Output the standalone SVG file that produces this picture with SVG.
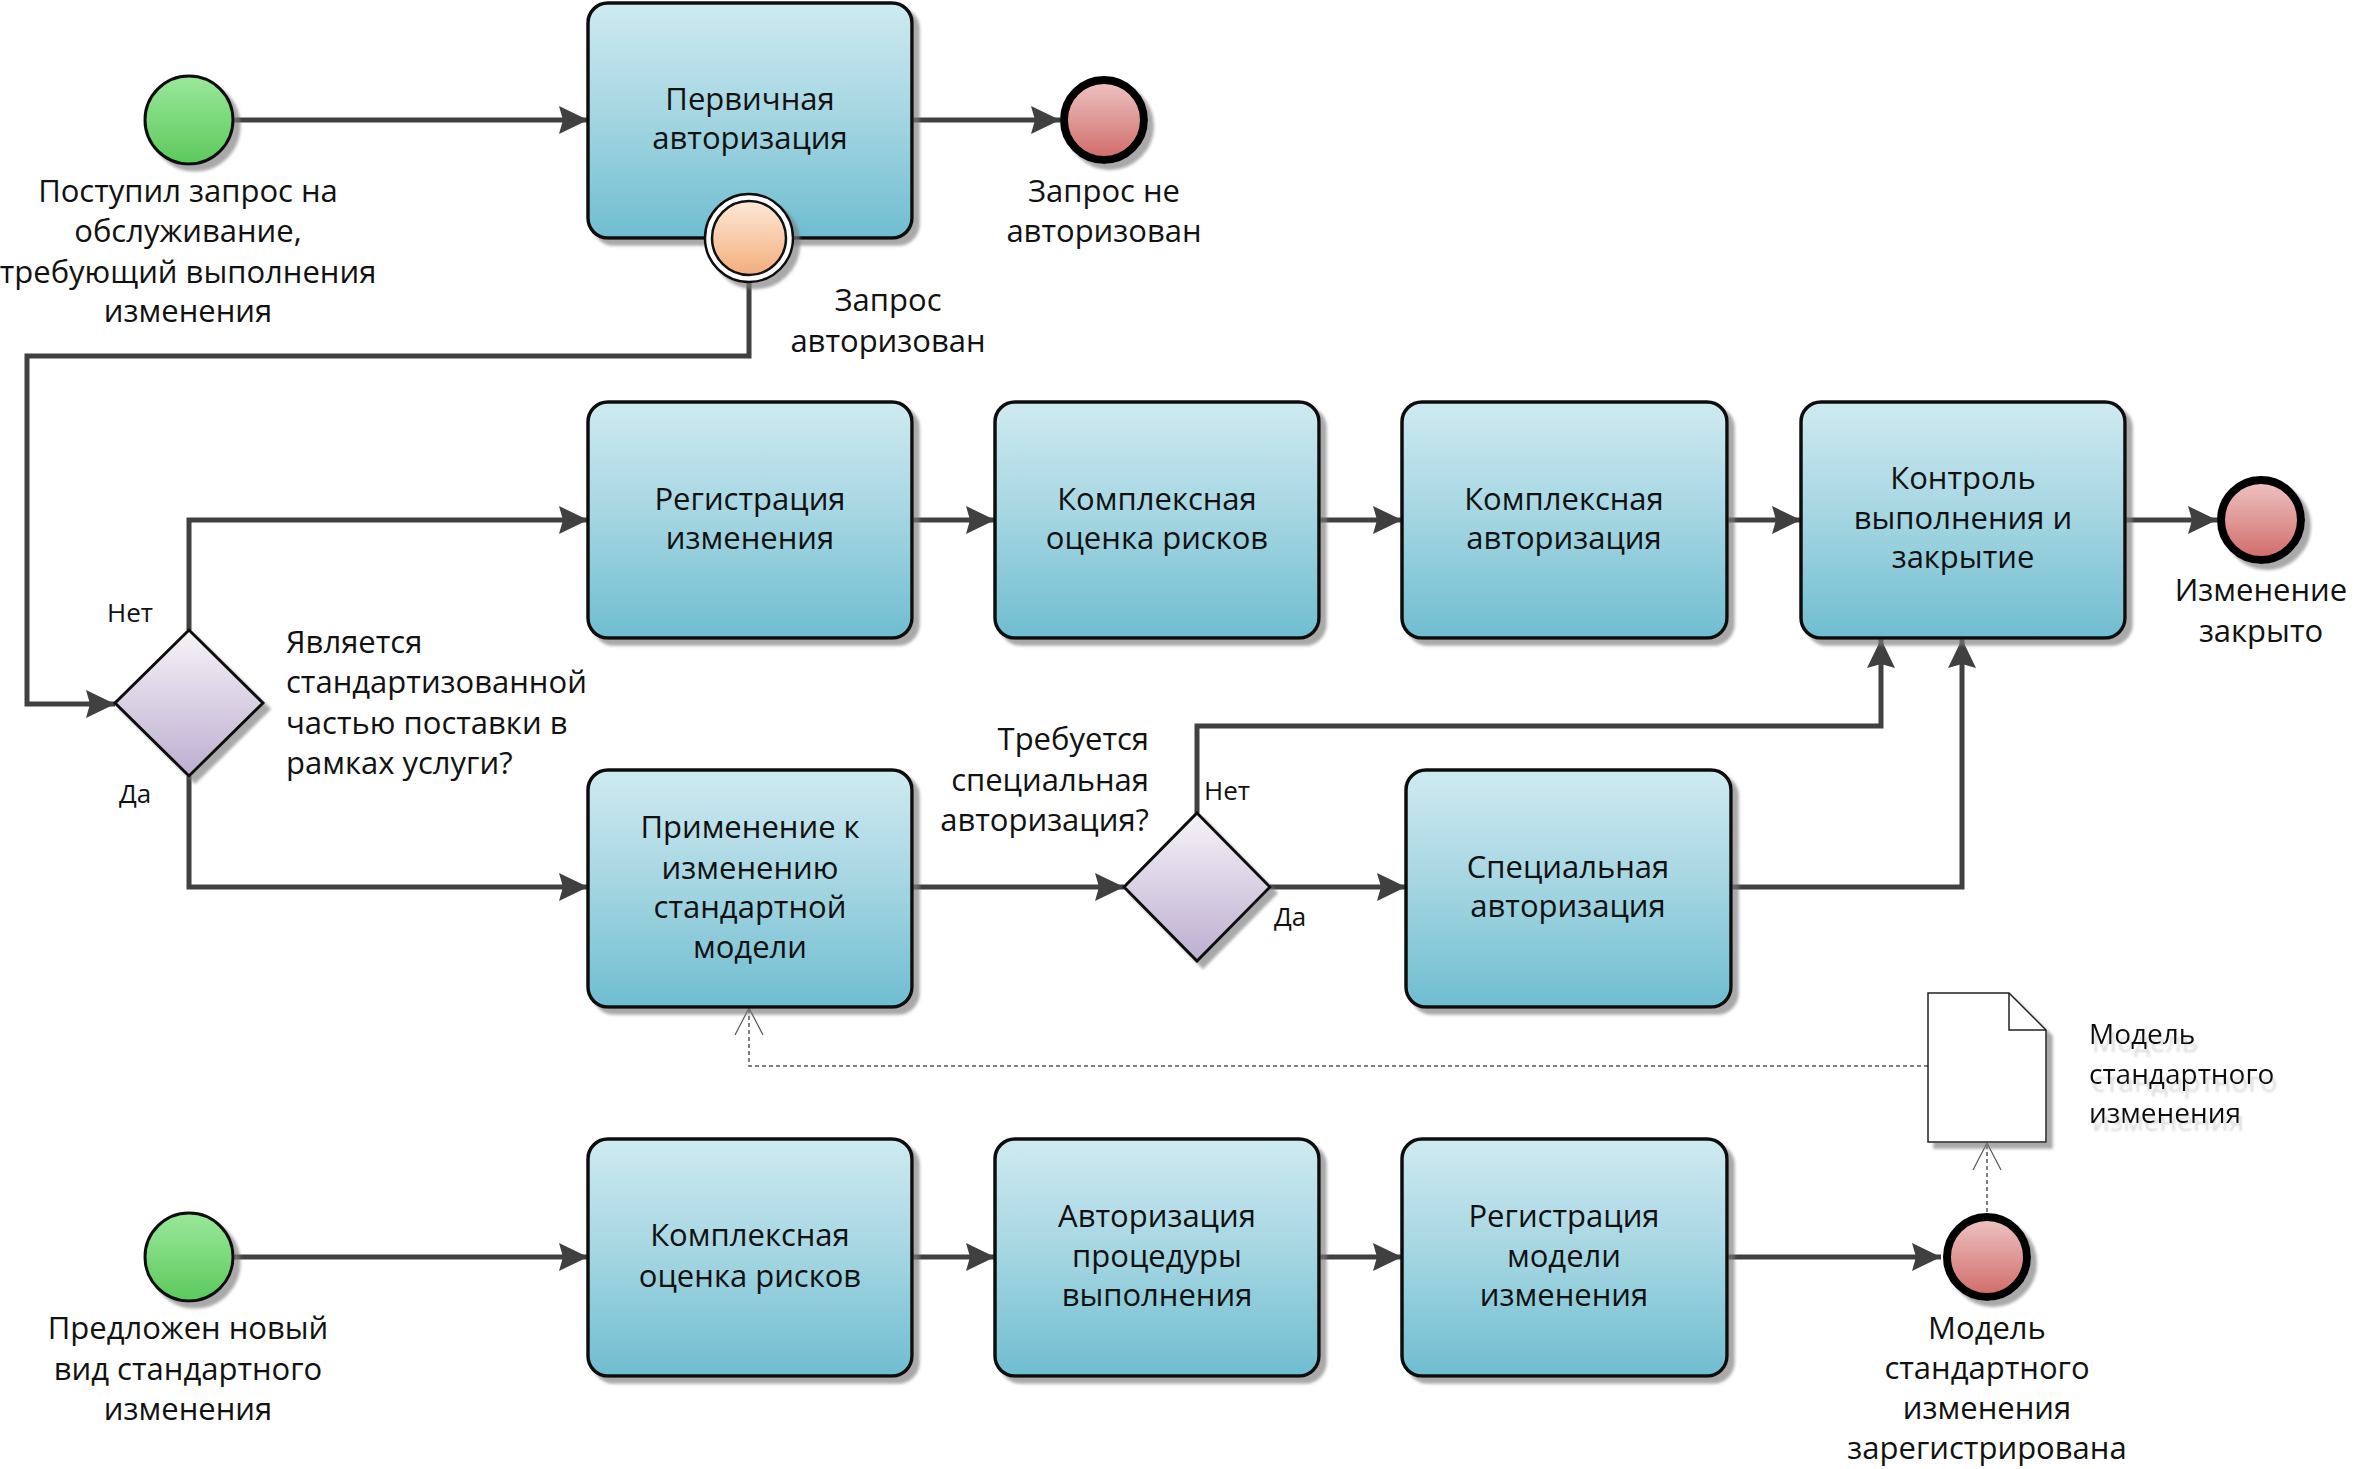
<svg xmlns="http://www.w3.org/2000/svg" width="2356" height="1469" viewBox="0 0 2356 1469">
<defs>
<linearGradient id="gTask" x1="0" y1="0" x2="0" y2="1">
<stop offset="0" stop-color="#cfeaf1"/><stop offset="0.5" stop-color="#a3d5e1"/><stop offset="1" stop-color="#6fbdd0"/>
</linearGradient>
<linearGradient id="gStart" x1="0" y1="0" x2="0" y2="1">
<stop offset="0" stop-color="#9ae89a"/><stop offset="1" stop-color="#5cc95c"/>
</linearGradient>
<linearGradient id="gEnd" x1="0" y1="0" x2="0" y2="1">
<stop offset="0" stop-color="#efc4c4"/><stop offset="1" stop-color="#cf6b68"/>
</linearGradient>
<linearGradient id="gInter" x1="0" y1="0" x2="0" y2="1">
<stop offset="0" stop-color="#fde9d8"/><stop offset="1" stop-color="#f4ad7c"/>
</linearGradient>
<linearGradient id="gGate" x1="0" y1="0" x2="0" y2="1">
<stop offset="0" stop-color="#f6f3f8"/><stop offset="1" stop-color="#bdaed0"/>
</linearGradient>
<filter id="sh" x="-10%" y="-10%" width="130%" height="130%">
<feDropShadow dx="6" dy="6" stdDeviation="1.5" flood-color="#7a7a7a" flood-opacity="0.65"/>
</filter>
<filter id="tsh" x="-10%" y="-20%" width="130%" height="160%">
<feDropShadow dx="3" dy="8" stdDeviation="0.8" flood-color="#c0c0c0" flood-opacity="0.6"/>
</filter>
<marker id="arr" markerUnits="userSpaceOnUse" markerWidth="30" markerHeight="30" refX="29" refY="14" orient="auto">
<path d="M0,0 L29,14 L0,28 L4,14 z" fill="#404040"/>
</marker>
</defs>
<style>
.task{fill:url(#gTask);stroke:#111;stroke-width:3.5;filter:url(#sh)}
.t{font-family:"Open Sans","Liberation Sans",sans-serif;font-size:31px;fill:#111;text-anchor:middle}
.l{font-family:"Open Sans","Liberation Sans",sans-serif;font-size:31px;fill:#111}
.s{font-family:"Open Sans","Liberation Sans",sans-serif;font-size:26px;fill:#111}
.d{font-family:"Open Sans","Liberation Sans",sans-serif;font-size:28px;fill:#111}
.conn{fill:none;stroke:#404040;stroke-width:5;marker-end:url(#arr)}
.assoc{fill:none;stroke:#555;stroke-width:1.5;stroke-dasharray:4,3}
.ahead{fill:none;stroke:#555;stroke-width:1.2}
.start{fill:url(#gStart);stroke:#111;stroke-width:3;filter:url(#sh)}
.end{fill:url(#gEnd);stroke:#000;stroke-width:8;filter:url(#sh)}
.gate{fill:url(#gGate);stroke:#111;stroke-width:3;filter:url(#sh)}
</style>
<rect width="2356" height="1469" fill="#fff"/>

<g id="connectors">
<path class="conn" d="M233,120 L588,120"/>
<path class="conn" d="M912,120 L1060,120"/>
<path class="conn" d="M749,282 L749,356 L27,356 L27,704 L115,704"/>
<path class="conn" d="M189,630 L189,520 L588,520"/>
<path class="conn" d="M189,776 L189,887 L588,887"/>
<path class="conn" d="M912,520 L995,520"/>
<path class="conn" d="M1319,520 L1402,520"/>
<path class="conn" d="M1727,520 L1801,520"/>
<path class="conn" d="M2125,520 L2217,520"/>
<path class="conn" d="M912,887 L1124,887"/>
<path class="conn" d="M1197,813 L1197,726 L1881,726 L1881,639"/>
<path class="conn" d="M1270,887 L1406,887"/>
<path class="conn" d="M1731,887 L1962,887 L1962,639"/>
<path class="conn" d="M233,1257 L588,1257"/>
<path class="conn" d="M912,1257 L995,1257"/>
<path class="conn" d="M1319,1257 L1402,1257"/>
<path class="conn" d="M1727,1257 L1941,1257"/>
<path class="assoc" d="M1987,1212 L1987,1144"/>
<polyline class="ahead" points="1973,1170 1987,1143 2001,1170"/>
<path class="assoc" d="M1928,1066 L749,1066 L749,1009"/>
<polyline class="ahead" points="735,1035 749,1008 763,1035"/>
</g>

<g id="start1">
<circle class="start" cx="189" cy="120" r="44"/>
<text class="t" x="188" y="202">Поступил запрос на</text>
<text class="t" x="188" y="242">обслуживание,</text>
<text class="t" x="188" y="283">требующий выполнения</text>
<text class="t" x="188" y="322">изменения</text>
</g>

<g id="task-primary-auth">
<rect class="task" x="588" y="3" width="324" height="235" rx="20"/>
<text class="t" x="750" y="110">Первичная</text>
<text class="t" x="750" y="149">авторизация</text>
</g>

<g id="boundary-authorized">
<circle cx="749" cy="238" r="44" fill="#fff" stroke="#111" stroke-width="2.5" filter="url(#sh)"/>
<circle cx="749" cy="238" r="37" fill="url(#gInter)" stroke="#111" stroke-width="2.5"/>
<text class="t" x="888" y="311">Запрос</text>
<text class="t" x="888" y="352">авторизован</text>
</g>

<g id="end-not-auth">
<circle class="end" cx="1104" cy="120" r="40"/>
<text class="t" x="1104" y="202">Запрос не</text>
<text class="t" x="1104" y="242">авторизован</text>
</g>

<g id="gateway1">
<polygon class="gate" points="189,630 263,703 189,776 115,703"/>
<text class="s" x="107" y="622">Нет</text>
<text class="s" x="119" y="803">Да</text>
<text class="l" x="286" y="653">Является</text>
<text class="l" x="286" y="693">стандартизованной</text>
<text class="l" x="286" y="734">частью поставки в</text>
<text class="l" x="286" y="774">рамках услуги?</text>
</g>

<g id="task-register">
<rect class="task" x="588" y="402" width="324" height="236" rx="20"/>
<text class="t" x="750" y="510">Регистрация</text>
<text class="t" x="750" y="549">изменения</text>
</g>

<g id="task-risk1">
<rect class="task" x="995" y="402" width="324" height="236" rx="20"/>
<text class="t" x="1157" y="510">Комплексная</text>
<text class="t" x="1157" y="549">оценка рисков</text>
</g>

<g id="task-complex-auth">
<rect class="task" x="1402" y="402" width="325" height="236" rx="20"/>
<text class="t" x="1564" y="510">Комплексная</text>
<text class="t" x="1564" y="549">авторизация</text>
</g>

<g id="task-control">
<rect class="task" x="1801" y="402" width="324" height="236" rx="20"/>
<text class="t" x="1963" y="489">Контроль</text>
<text class="t" x="1963" y="529">выполнения и</text>
<text class="t" x="1963" y="568">закрытие</text>
</g>

<g id="end-closed">
<circle class="end" cx="2261" cy="520" r="40"/>
<text class="t" x="2261" y="601">Изменение</text>
<text class="t" x="2261" y="642">закрыто</text>
</g>

<g id="task-apply">
<rect class="task" x="588" y="770" width="324" height="237" rx="20"/>
<text class="t" x="750" y="838">Применение к</text>
<text class="t" x="750" y="879">изменению</text>
<text class="t" x="750" y="918">стандартной</text>
<text class="t" x="750" y="958">модели</text>
</g>

<g id="gateway2">
<polygon class="gate" points="1197,813 1270,887 1197,961 1124,887"/>
<text class="l" x="1149" y="750" text-anchor="end">Требуется</text>
<text class="l" x="1149" y="791" text-anchor="end">специальная</text>
<text class="l" x="1149" y="831" text-anchor="end">авторизация?</text>
<text class="s" x="1204" y="800">Нет</text>
<text class="s" x="1274" y="926">Да</text>
</g>

<g id="task-special-auth">
<rect class="task" x="1406" y="770" width="325" height="237" rx="20"/>
<text class="t" x="1568" y="878">Специальная</text>
<text class="t" x="1568" y="917">авторизация</text>
</g>

<g id="data-model">
<path d="M1928,993 L2009,993 L2046,1030 L2046,1142 L1928,1142 Z" fill="#fff" stroke="#222" stroke-width="1.5" filter="url(#sh)"/>
<path d="M2009,993 L2009,1030 L2046,1030" fill="none" stroke="#222" stroke-width="1.5"/>
<g filter="url(#tsh)">
<text class="d" x="2089" y="1044">Модель</text>
<text class="d" x="2089" y="1084">стандартного</text>
<text class="d" x="2089" y="1123">изменения</text>
</g>
</g>

<g id="start2">
<circle class="start" cx="189" cy="1257" r="44"/>
<text class="t" x="188" y="1339">Предложен новый</text>
<text class="t" x="188" y="1380">вид стандартного</text>
<text class="t" x="188" y="1420">изменения</text>
</g>

<g id="task-risk2">
<rect class="task" x="588" y="1139" width="324" height="237" rx="20"/>
<text class="t" x="750" y="1246">Комплексная</text>
<text class="t" x="750" y="1287">оценка рисков</text>
</g>

<g id="task-proc-auth">
<rect class="task" x="995" y="1139" width="324" height="237" rx="20"/>
<text class="t" x="1157" y="1227">Авторизация</text>
<text class="t" x="1157" y="1267">процедуры</text>
<text class="t" x="1157" y="1306">выполнения</text>
</g>

<g id="task-reg-model">
<rect class="task" x="1402" y="1139" width="325" height="237" rx="20"/>
<text class="t" x="1564" y="1227">Регистрация</text>
<text class="t" x="1564" y="1267">модели</text>
<text class="t" x="1564" y="1306">изменения</text>
</g>

<g id="end-registered">
<circle class="end" cx="1987" cy="1257" r="40"/>
<text class="t" x="1987" y="1339">Модель</text>
<text class="t" x="1987" y="1379">стандартного</text>
<text class="t" x="1987" y="1419">изменения</text>
<text class="t" x="1987" y="1459">зарегистрирована</text>
</g>
</svg>
